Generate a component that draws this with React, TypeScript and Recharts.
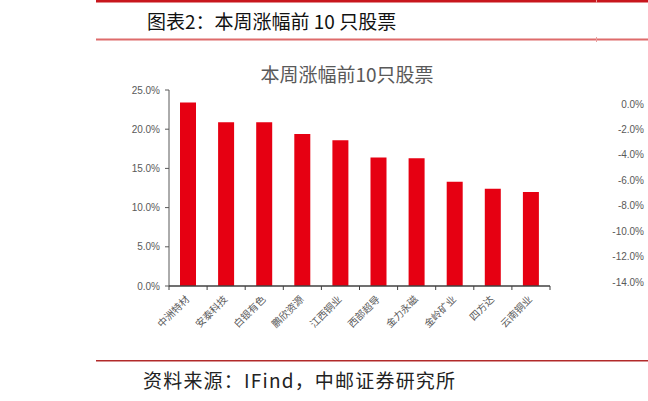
import React from "react";
import { BarChart, Bar, XAxis, YAxis } from "recharts";

const categories = ["中洲特材", "安泰科技", "白银有色", "鹏欣资源", "江西铜业", "西部超导", "金力永磁", "金岭矿业", "四方达", "云南铜业"];
const gains = [23.4, 20.9, 20.9, 19.4, 18.6, 16.4, 16.3, 13.3, 12.4, 12.0];
const leftTicks = [0, 5, 10, 15, 20, 25];
const rightTicks = [0, -2, -4, -6, -8, -10, -12, -14];

const data = categories.map((name, i) => ({ name, value: gains[i] }));
const rightData = [{ name: "" }];

const PLOT_LEFT = 169;
const PLOT_RIGHT = 550;
const BAND = (PLOT_RIGHT - PLOT_LEFT) / categories.length;
const AXIS_COLOR = "#595959";
const TEXT_COLOR = "#595959";
const CJK = "'Noto Sans CJK SC', 'Noto Sans', sans-serif";
const LATIN = "'Liberation Sans', Arial, sans-serif";

const pct = (v: number) => `${v.toFixed(1)}%`;

function XTick(props: any) {
  const { x, y, payload, index } = props;
  const ax = x + 2;
  const ay = y + 14;
  const isLast = index === categories.length - 1 || payload.value === categories[categories.length - 1];
  return (
    <g>
      <line x1={x - BAND / 2} x2={x - BAND / 2} y1={y} y2={y + 4} stroke="#404040" strokeWidth={1} />
      {isLast && <line x1={x + BAND / 2} x2={x + BAND / 2} y1={y} y2={y + 4} stroke="#404040" strokeWidth={1} />}
      <text
        x={ax}
        y={ay}
        transform={`rotate(-45 ${ax} ${ay})`}
        textAnchor="end"
        fontSize={10}
        fill={TEXT_COLOR}
        fontFamily={CJK}
      >
        {payload.value}
      </text>
    </g>
  );
}

export default function App() {
  return (
    <div style={{ position: "relative", width: 648, height: 401, overflow: "hidden", background: "#fff" }}>
      <style>{`body{margin:0;}`}</style>
      <svg width={648} height={401} style={{ position: "absolute", left: 0, top: 0 }}>
        <rect x={96} y={0} width={552} height={2.5} fill="#c8161d" />
        <rect x={96} y={38.5} width={552} height={2} fill="#de6b6b" />
        <rect x={596} y={0} width={1} height={3} fill="#e8a0a0" />
        <rect x={596} y={37} width={1} height={5} fill="#e8a0a0" />
        <text x={147} y={29} fontSize={19} fontWeight={400} fill="#111" fontFamily={CJK}>
          图表2：本周涨幅前 10 只股票
        </text>
        <text x={347} y={82} fontSize={19} fill={TEXT_COLOR} textAnchor="middle" fontFamily={CJK}>
          本周涨幅前10只股票
        </text>
        <rect x={96} y={360} width={552} height={1.5} fill="#b22a2a" />
        <text x={143} y={388} fontSize={19} letterSpacing={1.2} fill="#222" fontFamily={CJK}>
          资料来源：IFind，中邮证券研究所
        </text>
      </svg>
      <div style={{ position: "absolute", left: 0, top: 0 }}>
        <BarChart width={648} height={401} data={data} margin={{ top: 90, right: 98, bottom: 55, left: 119 }}>
          <YAxis
            width={50}
            domain={[0, 25]}
            ticks={leftTicks}
            tickFormatter={pct}
            tickSize={4}
            tickMargin={5}
            axisLine={{ stroke: AXIS_COLOR, strokeWidth: 1 }}
            tickLine={{ stroke: AXIS_COLOR }}
            tick={{ fontSize: 10, fill: TEXT_COLOR, fontFamily: LATIN }}
            interval={0}
          />
          <XAxis
            dataKey="name"
            height={60}
            interval={0}
            tickSize={0}
            tickMargin={0}
            tickLine={false}
            axisLine={{ stroke: "#404040", strokeWidth: 1.5 }}
            tick={<XTick />}
          />
          <Bar dataKey="value" fill="#e60012" barSize={16} isAnimationActive={false} />
        </BarChart>
      </div>
      <div style={{ position: "absolute", left: 560, top: 0 }}>
        <BarChart width={88} height={401} data={rightData} margin={{ top: 104, right: 0, bottom: 119, left: 0 }}>
          <YAxis
            width={84}
            type="number"
            domain={[-14, 0]}
            ticks={rightTicks}
            tickFormatter={pct}
            tickSize={0}
            tickMargin={0}
            axisLine={false}
            tickLine={false}
            tick={{ fontSize: 10, fill: TEXT_COLOR, fontFamily: LATIN }}
            interval={0}
            allowDataOverflow
          />
          <XAxis dataKey="name" hide />
        </BarChart>
      </div>
    </div>
  );
}
